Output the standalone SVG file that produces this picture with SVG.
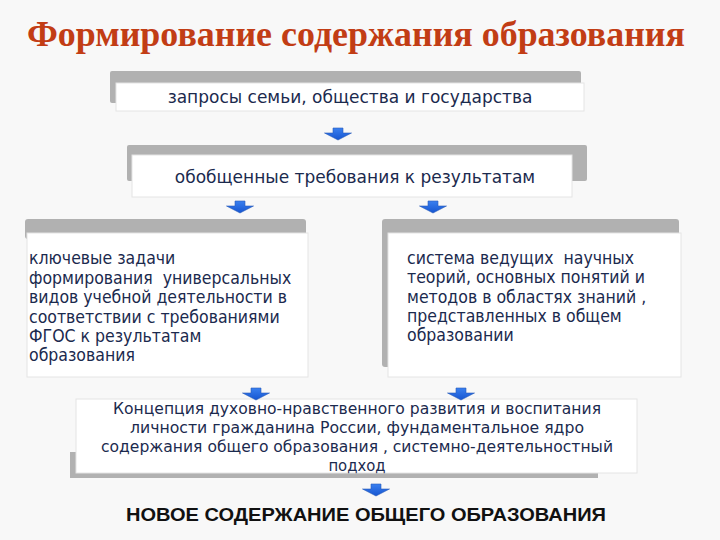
<svg xmlns="http://www.w3.org/2000/svg" width="720" height="540" viewBox="0 0 720 540">
  <defs>
    <style>
      .bg { fill: #f8f8f8; }
      .shadow { fill: #b1b1b1; }
      .card { fill: #ffffff; stroke: #e4e4e4; stroke-width: 1; }
      .t { font-family: "DejaVu Sans", Verdana, sans-serif; font-size: 17px; fill: #1b2a4e; }
      .n { font-family: "DejaVu Sans Condensed", "DejaVu Sans", sans-serif; font-stretch: condensed; font-size: 17.5px; fill: #1b2a4e; }
      .m { font-size: 16.5px; }
      .c { text-anchor: middle; }
      .title { font-family: "Liberation Serif", "Times New Roman", serif; font-weight: bold; font-size: 36px; fill: #c23d15; }
      .result { font-family: "Liberation Sans", Arial, sans-serif; font-weight: bold; font-size: 19px; fill: #111111; text-anchor: middle; }
    </style>
    <linearGradient id="blue" x1="0" y1="0" x2="0" y2="1">
      <stop offset="0" stop-color="#3a80f0"/>
      <stop offset="1" stop-color="#1655d0"/>
    </linearGradient>
    <symbol id="arrow" overflow="visible">
      <path d="M-5,0 H5 V5 H13.5 L0,12 L-13.5,5 H-5 Z" fill="url(#blue)" stroke="#2a5cb8" stroke-width="0.6"/>
    </symbol>
  </defs>

  <rect class="bg" x="0" y="0" width="720" height="540"/>

  <text class="title" x="356" y="46" text-anchor="middle" textLength="658" lengthAdjust="spacingAndGlyphs">Формирование содержания образования</text>

  <g id="node-requests">
    <rect class="shadow" x="110" y="71" width="471" height="32" rx="2"/>
    <rect class="card" x="116" y="83" width="468" height="28"/>
    <text class="t c" x="350" y="103">запросы семьи, общества и государства</text>
  </g>

  <g id="node-requirements">
    <rect class="shadow" x="127" y="145" width="460" height="36" rx="2"/>
    <rect class="card" x="132" y="155" width="440" height="42"/>
    <text class="t c" x="355" y="183">обобщенные требования к результатам</text>
  </g>

  <g id="node-tasks">
    <rect class="shadow" x="25" y="219" width="281" height="20" rx="3"/>
    <rect class="card" x="27" y="233" width="281" height="144"/>
    <text class="n" x="29" y="264">ключевые задачи</text>
    <text class="n" x="29" y="284" xml:space="preserve">формирования  универсальных</text>
    <text class="n" x="29" y="303">видов учебной деятельности в</text>
    <text class="n" x="29" y="323">соответствии с требованиями</text>
    <text class="n" x="29" y="342">ФГОС к результатам</text>
    <text class="n" x="29" y="361">образования</text>
  </g>

  <g id="node-theories">
    <rect class="shadow" x="382" y="219" width="297" height="148" rx="3"/>
    <rect class="card" x="388" y="233" width="293" height="144"/>
    <text class="n" x="407" y="264" xml:space="preserve">система ведущих  научных</text>
    <text class="n" x="407" y="283">теорий, основных понятий и</text>
    <text class="n" x="407" y="303">методов в областях знаний ,</text>
    <text class="n" x="407" y="322">представленных в общем</text>
    <text class="n" x="407" y="341">образовании</text>
  </g>

  <g id="node-concept">
    <rect class="shadow" x="70" y="452" width="528" height="26"/>
    <rect class="card" x="76" y="399" width="561" height="74"/>
    <text class="n m c" x="357" y="414" textLength="488" lengthAdjust="spacingAndGlyphs">Концепция духовно-нравственного развития и воспитания</text>
    <text class="n m c" x="357" y="433" textLength="454" lengthAdjust="spacingAndGlyphs">личности гражданина России, фундаментальное ядро</text>
    <text class="n m c" x="357" y="452" textLength="512" lengthAdjust="spacingAndGlyphs">содержания общего образования , системно-деятельностный</text>
    <text class="n m c" x="357" y="471">подход</text>
  </g>

  <g id="node-result">
    <text class="result" x="366" y="521" textLength="480" lengthAdjust="spacingAndGlyphs">НОВОЕ СОДЕРЖАНИЕ ОБЩЕГО ОБРАЗОВАНИЯ</text>
  </g>

  <g id="connectors">
    <use href="#arrow" x="338" y="128"/>
    <use href="#arrow" x="240" y="201"/>
    <use href="#arrow" x="433" y="201"/>
    <use href="#arrow" x="256" y="388"/>
    <use href="#arrow" x="461" y="388"/>
    <use href="#arrow" x="376" y="484"/>
  </g>
</svg>
